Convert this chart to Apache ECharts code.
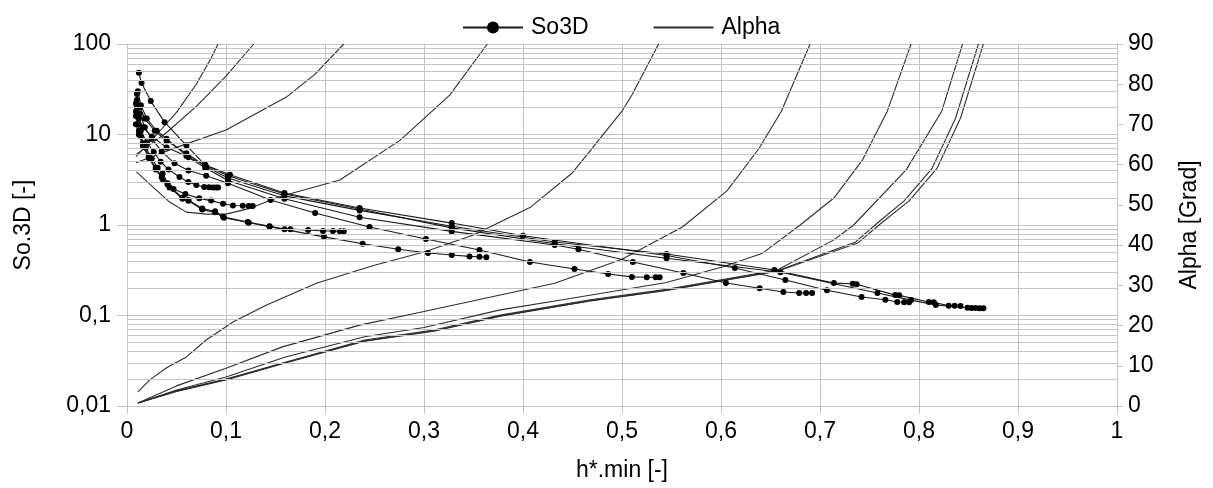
<!DOCTYPE html>
<html><head><meta charset="utf-8">
<script src="https://cdn.jsdelivr.net/npm/echarts@6/dist/echarts.min.js"></script>
<style>html,body{margin:0;padding:0;background:#fff}#c{width:1213px;height:488px}</style>
</head><body><div id="c"></div>
<script>
// ---- So3D curves [h*.min, So3D] ----
const so3d_1 = [[0.009,22],[0.011,15.5],[0.014,11],[0.02,8.2],[0.027,6.4],[0.034,5.0],[0.042,4.1],[0.053,3.39],[0.062,2.99],[0.070,2.77],[0.078,2.63],[0.083,2.61],[0.087,2.6],[0.090,2.6],[0.092,2.6]];
const so3d_2 = [[0.009,18],[0.011,13],[0.014,9.5],[0.019,7.2],[0.025,5.4],[0.031,4.3],[0.036,3.7],[0.041,2.9],[0.047,2.5],[0.059,2.2],[0.073,1.97],[0.085,1.86],[0.097,1.72],[0.107,1.64],[0.117,1.63],[0.123,1.62],[0.127,1.62]];
const so3d_3 = [[0.009,16],[0.012,11],[0.016,8],[0.022,5.8],[0.029,4.3],[0.035,3.4],[0.041,2.8],[0.056,2.0],[0.062,1.89],[0.076,1.52],[0.089,1.42],[0.097,1.23],[0.122,1.08],[0.144,0.97],[0.159,0.90],[0.165,0.90],[0.183,0.88],[0.198,0.86],[0.208,0.86],[0.215,0.855],[0.219,0.855]];
const so3d_4 = [[0.009,13],[0.012,10],[0.016,7.5],[0.022,5.5],[0.029,4.1],[0.036,3.2],[0.043,2.6],[0.056,1.95],[0.062,1.85],[0.076,1.48],[0.089,1.38],[0.098,1.2],[0.123,1.06],[0.144,0.96],[0.199,0.74],[0.238,0.62],[0.274,0.54],[0.304,0.49],[0.328,0.466],[0.346,0.45],[0.356,0.445],[0.363,0.44]];
const so3d_5 = [[0.010,24],[0.013,17],[0.018,12],[0.025,9],[0.035,6.5],[0.048,4.8],[0.062,4.0],[0.08,3.5],[0.102,2.9],[0.145,1.89],[0.19,1.36],[0.245,0.95],[0.302,0.70],[0.356,0.53],[0.407,0.39],[0.452,0.326],[0.486,0.287],[0.51,0.267],[0.525,0.265],[0.534,0.264],[0.538,0.264]];
const so3d_6 = [[0.011,30],[0.014,21],[0.02,15],[0.03,11],[0.04,9],[0.062,5.6],[0.079,4.3],[0.102,3.1],[0.159,1.95],[0.235,1.22],[0.328,0.85],[0.432,0.60],[0.456,0.54],[0.511,0.39],[0.562,0.295],[0.605,0.229],[0.639,0.20],[0.663,0.182],[0.679,0.177],[0.686,0.177],[0.692,0.177]];
const so3d_7 = [[0.012,48],[0.0147,37],[0.024,23.4],[0.038,13.7],[0.06,7.6],[0.079,4.6],[0.104,3.6],[0.159,2.26],[0.235,1.54],[0.328,1.05],[0.40,0.76],[0.545,0.46],[0.614,0.335],[0.665,0.247],[0.707,0.19],[0.742,0.16],[0.766,0.149],[0.778,0.141],[0.785,0.14],[0.79,0.14]];
const so3d_8 = [[0.010,28],[0.013,20],[0.018,15],[0.028,11],[0.04,8.5],[0.06,6.2],[0.08,4.4],[0.102,3.3],[0.159,2.1],[0.235,1.45],[0.328,0.97],[0.432,0.65],[0.545,0.478],[0.654,0.318],[0.714,0.228],[0.733,0.224],[0.737,0.222],[0.776,0.168],[0.78,0.167],[0.81,0.141],[0.815,0.14],[0.83,0.128],[0.836,0.128],[0.842,0.127]];
const so3d_9 = [[0.010,20],[0.012,15],[0.016,12],[0.025,9.5],[0.04,7.2],[0.06,5.8],[0.079,4.6],[0.102,3.5],[0.159,2.2],[0.235,1.5],[0.328,0.93],[0.432,0.62],[0.545,0.43],[0.66,0.30],[0.758,0.177],[0.792,0.148],[0.817,0.131],[0.849,0.122],[0.853,0.121],[0.857,0.121],[0.861,0.12],[0.865,0.12]];

// ---- Alpha curves [h*.min, Alpha in Grad] ----
const alpha_1 = [[0.009,62],[0.03,67.5],[0.05,73],[0.07,80],[0.085,86.5],[0.092,90]];
const alpha_2 = [[0.009,62.5],[0.04,68],[0.07,74.5],[0.1,82],[0.128,90]];
const alpha_3 = [[0.009,60.5],[0.05,64.3],[0.1,68.6],[0.161,76.8],[0.19,82.5],[0.219,90]];
const alpha_4 = [[0.0096,58.2],[0.026,54.5],[0.043,50.7],[0.06,48.2],[0.08,47.7],[0.1,47.7],[0.125,49.2],[0.154,52],[0.215,56.2],[0.276,66.1],[0.326,77.3],[0.364,90]];
const alpha_5 = [[0.011,3.5],[0.023,6.5],[0.04,9.5],[0.06,12.2],[0.08,16.4],[0.107,20.9],[0.141,25.1],[0.192,30.6],[0.25,35],[0.3,38.3],[0.35,42.5],[0.408,49.5],[0.45,58],[0.5,73.3],[0.51,77.3],[0.537,90]];
const alpha_6 = [[0.011,0.75],[0.05,5],[0.1,9.4],[0.157,14.7],[0.235,20.1],[0.3,23.5],[0.377,27.6],[0.432,30.5],[0.5,36.5],[0.561,44.5],[0.606,53.5],[0.638,63.9],[0.661,73.3],[0.69,90]];
const alpha_7 = [[0.011,0.75],[0.05,4],[0.1,7.2],[0.16,12.2],[0.24,17.2],[0.3,19.5],[0.377,23.9],[0.44,26.4],[0.545,30.7],[0.602,34.6],[0.642,38.0],[0.68,45],[0.714,51.7],[0.743,61.2],[0.768,73.3],[0.792,90]];
const alpha_8 = [[0.011,0.75],[0.05,3.8],[0.1,6.7],[0.16,10.9],[0.24,16.4],[0.31,18.9],[0.377,22.6],[0.468,26.4],[0.545,29],[0.657,33.8],[0.714,41.3],[0.734,45],[0.787,58.7],[0.823,73.3],[0.844,90]];
const alpha_9 = [[0.011,0.75],[0.05,3.7],[0.1,6.6],[0.16,10.8],[0.24,16.2],[0.31,18.7],[0.377,22.4],[0.468,26.2],[0.545,28.8],[0.657,33.6],[0.736,40.8],[0.758,45.5],[0.785,51],[0.813,59],[0.837,71.6],[0.86,90]];
const alpha_10 = [[0.011,0.75],[0.05,3.6],[0.1,6.5],[0.16,10.7],[0.24,16.1],[0.31,18.6],[0.377,22.3],[0.468,26.1],[0.545,28.7],[0.657,33.5],[0.738,40.5],[0.762,45.5],[0.79,51],[0.818,59],[0.842,71.6],[0.865,90]];

// log minor grid values (left axis)
const minorGrid = [0.02,0.03,0.04,0.05,0.06,0.07,0.08,0.09,0.2,0.3,0.4,0.5,0.6,0.7,0.8,0.9,2,3,4,5,6,7,8,9,20,30,40,50,60,70,80,90];

const so3dSets = [so3d_1,so3d_2,so3d_3,so3d_4,so3d_5,so3d_6,so3d_7,so3d_8,so3d_9];
const alphaSets = [alpha_1,alpha_2,alpha_3,alpha_4,alpha_5,alpha_6,alpha_7,alpha_8,alpha_9,alpha_10];

const FONT = 'Liberation Sans';
const FS = 23;
const GRID = '#c4c4c4';
const series = [];
series.push({
  type:'line', yAxisIndex:0, data:[[0,1]], showSymbol:false, lineStyle:{opacity:0}, silent:true, z:1,
  markLine:{silent:true, symbol:['none','none'], label:{show:false}, animation:false,
    lineStyle:{color:GRID, width:1, type:'solid'}, emphasis:{disabled:true},
    data: minorGrid.map(v=>({yAxis:v}))}
});
alphaSets.forEach(d=>series.push({
  name:'Alpha', type:'line', yAxisIndex:1, data:d, symbol:'none', smooth:false,
  lineStyle:{color:'#2e2e2e', width:1.1}, itemStyle:{color:'#2e2e2e'}, z:3
}));
so3dSets.forEach(d=>series.push({
  name:'So3D', type:'line', yAxisIndex:0, data:d, symbol:'circle', symbolSize:6,
  lineStyle:{color:'#1a1a1a', width:1.1}, itemStyle:{color:'#000'}, z:4
}));

const chart = echarts.init(document.getElementById('c'), null, {renderer:'canvas'});
chart.setOption({
  animation:false,
  backgroundColor:'#fff',
  textStyle:{fontFamily:FONT},
  legend:{
    left:457, top:11, itemWidth:60, itemHeight:15, itemGap:64,
    data:[{name:'So3D'},{name:'Alpha', itemStyle:{opacity:0}}],
    textStyle:{fontSize:FS, color:'#000', fontFamily:FONT, padding:[0,0,0,3]}
  },
  grid:{left:127, right:96, top:44, bottom:82, containLabel:false},
  xAxis:{
    type:'value', min:0, max:1, interval:0.1,
    name:'h*.min [-]', nameLocation:'middle', nameGap:53,
    nameTextStyle:{fontSize:FS, color:'#000', fontFamily:FONT},
    axisLine:{show:true, lineStyle:{color:GRID}},
    axisTick:{show:true, length:8, lineStyle:{color:GRID}},
    splitLine:{show:true, lineStyle:{color:GRID}},
    axisLabel:{fontSize:FS, color:'#000', fontFamily:FONT, margin:14,
      formatter:v=>String(+(+v).toFixed(1)).replace('.',',')}
  },
  yAxis:[{
    type:'log', logBase:10, min:0.01, max:100, position:'left',
    name:'So.3D [-]', nameLocation:'middle', nameGap:92, nameRotate:90,
    nameTextStyle:{fontSize:FS, color:'#000', fontFamily:FONT},
    axisLine:{show:true, lineStyle:{color:GRID}},
    axisTick:{show:true, length:10, lineStyle:{color:GRID}},
    splitLine:{show:true, lineStyle:{color:GRID}},
    axisLabel:{fontSize:FS, color:'#000', fontFamily:FONT, margin:16,
      formatter:v=>String(+(+v).toPrecision(3)).replace('.',',')}
  },{
    type:'value', min:0, max:90, interval:10, position:'right',
    name:'Alpha [Grad]', nameLocation:'middle', nameGap:61, nameRotate:90,
    nameTextStyle:{fontSize:FS, color:'#000', fontFamily:FONT},
    axisLine:{show:true, lineStyle:{color:GRID}},
    axisTick:{show:true, length:6, lineStyle:{color:GRID}},
    splitLine:{show:false},
    axisLabel:{fontSize:FS, color:'#000', fontFamily:FONT, margin:11}
  }],
  series: series
});
</script>
</body></html>
